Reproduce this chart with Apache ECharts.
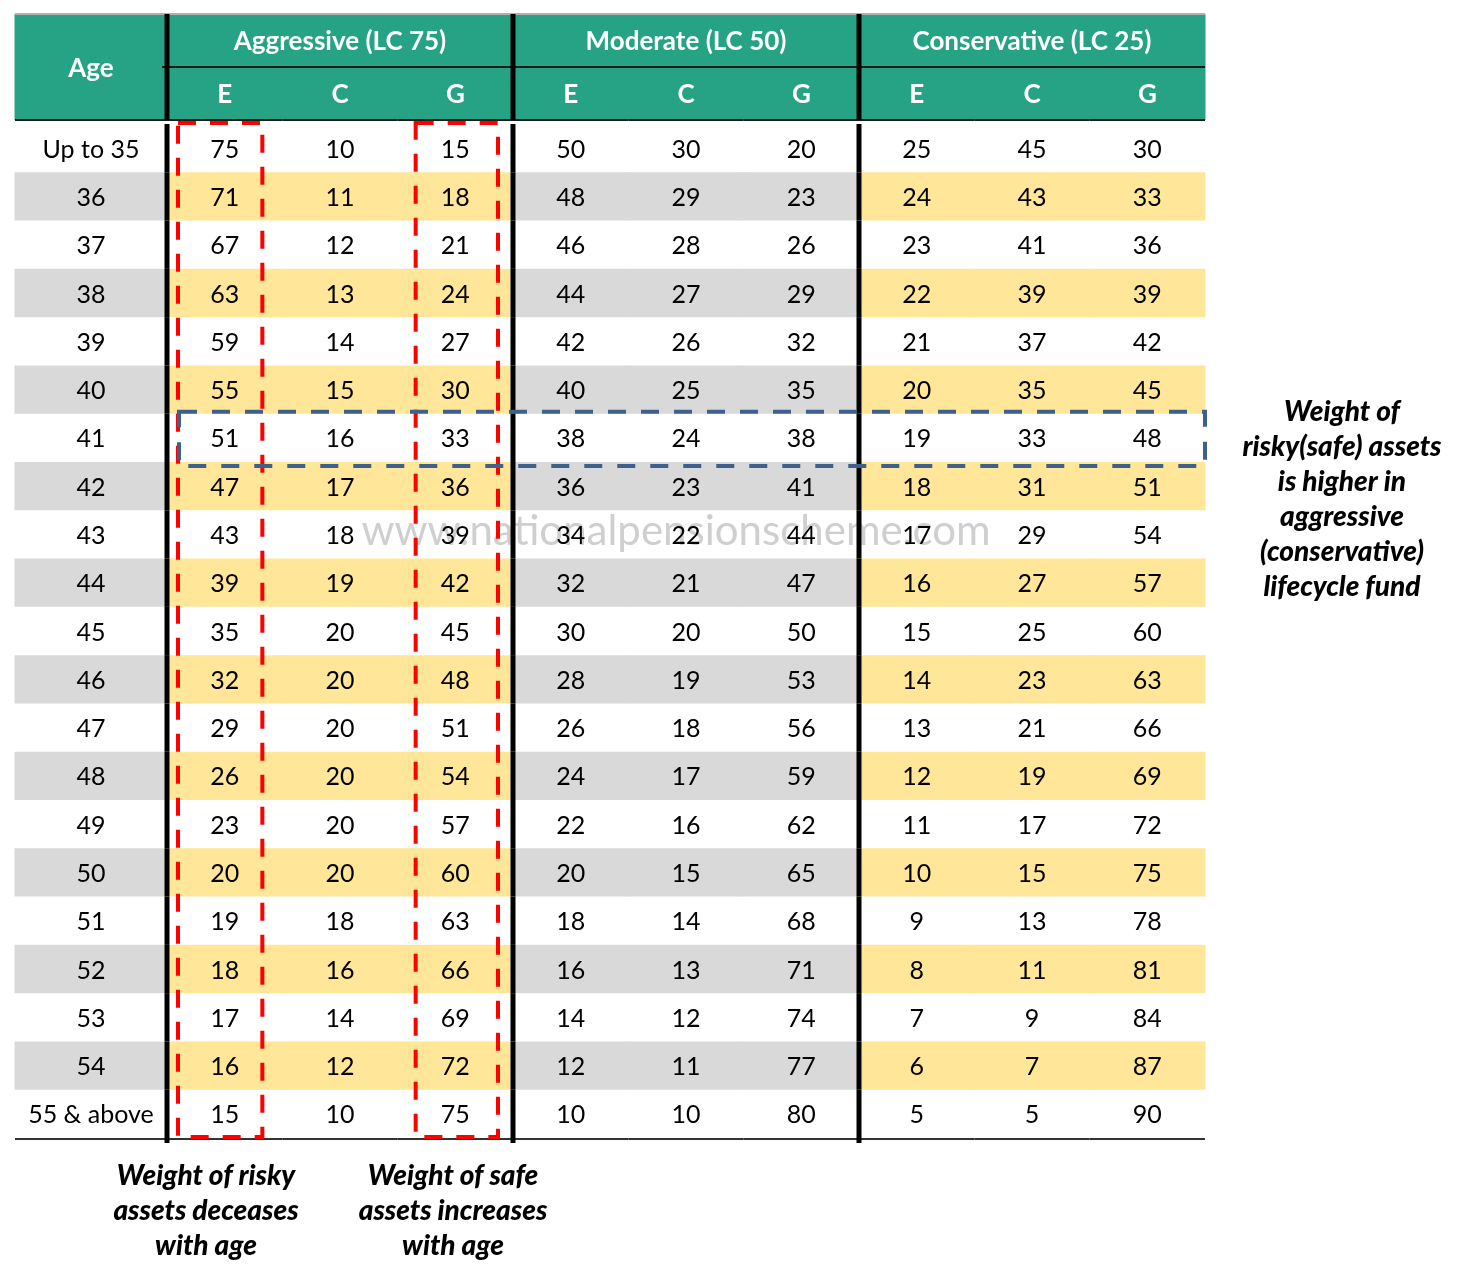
<!DOCTYPE html>
<html>
<head>
<meta charset="utf-8">
<script src="https://cdn.jsdelivr.net/npm/echarts@6/dist/echarts.min.js"></script>
<style>
html,body{margin:0;padding:0;background:#fff;}
#main{width:1474px;height:1268px;}
</style>
</head>
<body>
<div id="main"></div>
<script>
var ages = ['Up to 35','36','37','38','39','40','41','42','43','44','45','46','47','48','49','50','51','52','53','54','55 & above'];
var groups = ['Aggressive (LC 75)','Moderate (LC 50)','Conservative (LC 25)'];
var subCols = ['E','C','G'];
var aggressiveE = [75,71,67,63,59,55,51,47,43,39,35,32,29,26,23,20,19,18,17,16,15];
var aggressiveC = [10,11,12,13,14,15,16,17,18,19,20,20,20,20,20,20,18,16,14,12,10];
var aggressiveG = [15,18,21,24,27,30,33,36,39,42,45,48,51,54,57,60,63,66,69,72,75];
var moderateE = [50,48,46,44,42,40,38,36,34,32,30,28,26,24,22,20,18,16,14,12,10];
var moderateC = [30,29,28,27,26,25,24,23,22,21,20,19,18,17,16,15,14,13,12,11,10];
var moderateG = [20,23,26,29,32,35,38,41,44,47,50,53,56,59,62,65,68,71,74,77,80];
var conservativeE = [25,24,23,22,21,20,19,18,17,16,15,14,13,12,11,10,9,8,7,6,5];
var conservativeC = [45,43,41,39,37,35,33,31,29,27,25,23,21,19,17,15,13,11,9,7,5];
var conservativeG = [30,33,36,39,42,45,48,51,54,57,60,63,66,69,72,75,78,81,84,87,90];
// highlighted: E and G columns of aggressive fund, row of age 41
var boxedCols = [0, 2];
var boxedRow = 6;

var GREEN = '#26a384', YELLOW = '#ffe699', GRAY = '#d9d9d9', DARK = '#1a1a1a';
var FONT = 'Lato, "Open Sans", sans-serif';
var NOTE_FONT = 'italic 900 28px ' + FONT;

var fundValues = [aggressiveE, aggressiveC, aggressiveG, moderateE, moderateC, moderateG, conservativeE, conservativeC, conservativeG];
var fundCols = ['aggE','aggC','aggG','modE','modC','modG','conE','conC','conG'];
// left / right inset of the red boxes inside their column
var boxInset = {0:[11, 20], 2:[18, 15]};

var cellData = [];
for (var r = 0; r < ages.length; r++) {
	for (var c = 0; c < fundCols.length; c++) {
		cellData.push([c, r, fundValues[c][r]]);
	}
}
var ageData = [];
for (var i = 0; i < ages.length; i++) {
	ageData.push([0, i]);
}
var subData = [];
for (var c2 = 0; c2 < fundCols.length; c2++) {
	subData.push([c2, 1]);
}
var groupData = [];
for (var g = 0; g < groups.length; g++) {
	groupData.push([g * 3 + 1, 0, g]);
}

function vline(x, y1, y2) {
	return {type:'line', z2:20, shape:{x1:x, y1:y1, x2:x, y2:y2}, style:{stroke:'#000', lineWidth:5}};
}
function hline(x1, x2, y, color, w) {
	return {type:'line', z2:15, shape:{x1:x1, y1:y, x2:x2, y2:y}, style:{stroke:color, lineWidth:w}};
}
function cellText(text, x, y, bold, color) {
	return {type:'text', z2:10, style:{text:text, x:x, y:y, align:'center', verticalAlign:'middle',
		font:(bold ? 'bold 26px ' : '25px ') + FONT, fill:color}};
}
function cellRect(x, y, w, h, fill) {
	return {type:'rect', shape:{x:x - 0.5, y:y, width:w + 1, height:h}, style:{fill:fill}};
}

//年龄列
function renderAge(params, api) {
	var r = api.value(1);
	var p = api.coord([0, r]);
	var s = api.size([1, 1]);
	var x0 = p[0] - s[0] / 2, y0 = p[1] - s[1] / 2;
	var ch = [];
	if (r % 2 === 1) {
		ch.push(cellRect(x0, y0, s[0], s[1], GRAY));
	}
	ch.push(cellText(ages[r], p[0], p[1] + 1.5, false, '#000'));
	if (r === ages.length - 1) {
		ch.push(hline(x0, x0 + s[0], y0 + s[1] + 1, '#333', 2));
	}
	return {type:'group', children:ch};
}
//数据单元格
function renderCell(params, api) {
	var c = api.value(0), r = api.value(1);
	var p = api.coord([c, r]);
	var s = api.size([1, 1]);
	var x0 = p[0] - s[0] / 2, y0 = p[1] - s[1] / 2;
	var grp = Math.floor(c / 3);
	var ch = [];
	if (r % 2 === 1) {
		ch.push(cellRect(x0, y0, s[0], s[1], grp === 1 ? GRAY : YELLOW));
	}
	ch.push(cellText(String(api.value(2)), p[0], p[1] + 1.5, false, '#000'));
	var last = r === ages.length - 1;
	if (c % 3 === 0) {
		ch.push(vline(x0, y0, y0 + s[1] + (last ? 5 : 0)));
	}
	if (last) {
		ch.push(hline(x0, x0 + s[0], y0 + s[1] + 1, '#333', 2));
	}
	return {type:'group', children:ch};
}
function renderAgeHead(params, api) {
	var p = api.coord([0, 0]);
	var s = api.size([1, 1]);
	var x0 = p[0] - s[0] / 2, y0 = p[1] - s[1] / 2;
	return {type:'group', children:[
		cellRect(x0, y0, s[0], s[1], GREEN),
		cellText('Age', p[0], p[1] + 2, true, '#fff'),
		hline(x0, x0 + s[0], y0, '#b0b0b0', 2),
		hline(x0, x0 + s[0], y0 + s[1], DARK, 2)
	]};
}
function renderGroupHead(params, api) {
	var c = api.value(0), g = api.value(2);
	var p = api.coord([c, 0]);
	var s = api.size([1, 1]);
	var w = s[0] * 3;
	var x0 = p[0] - w / 2, y0 = p[1] - s[1] / 2;
	return {type:'group', children:[
		cellRect(x0, y0, w, s[1], GREEN),
		cellText(groups[g], p[0], p[1] + 1.5, true, '#fff'),
		hline(x0 - 5, x0 + w, y0, '#b0b0b0', 2),
		hline(x0 - 5, x0 + w, y0 + s[1], DARK, 2),
		vline(x0, y0, y0 + s[1])
	]};
}
function renderSubHead(params, api) {
	var c = api.value(0);
	var p = api.coord([c, 1]);
	var s = api.size([1, 1]);
	var x0 = p[0] - s[0] / 2, y0 = p[1] - s[1] / 2;
	var ch = [
		cellRect(x0, y0, s[0], s[1], GREEN),
		cellText(subCols[c % 3], p[0], p[1] + 1.5, true, '#fff'),
		hline(x0, x0 + s[0], y0 + s[1], DARK, 2)
	];
	if (c % 3 === 0) ch.push(vline(x0, y0, y0 + s[1]));
	return {type:'group', children:ch};
}
//红色虚线框
function renderColBox(params, api) {
	var c = api.value(0);
	var top = api.coord([c, 0]);
	var bot = api.coord([c, ages.length - 1]);
	var s = api.size([1, 1]);
	var ins = boxInset[c];
	var x0 = top[0] - s[0] / 2 + ins[0], x1 = top[0] + s[0] / 2 - ins[1];
	var y0 = top[1] - s[1] / 2 - 1, y1 = bot[1] + s[1] / 2 - 1;
	return {type:'rect', z2:30, shape:{x:x0, y:y0, width:x1 - x0, height:y1 - y0},
		style:{fill:'none', stroke:'#ff0000', lineWidth:4, lineDash:[18, 14]}};
}
//蓝色虚线框
function renderRowBox(params, api) {
	var r = api.value(0);
	var a = api.coord([0, r]);
	var b = api.coord([fundCols.length - 1, r]);
	var s = api.size([1, 1]);
	var x0 = a[0] - s[0] / 2 + 12, x1 = b[0] + s[0] / 2;
	var y0 = a[1] - s[1] / 2 - 2, y1 = a[1] + s[1] / 2 + 4;
	return {type:'rect', z2:31, shape:{x:x0, y:y0, width:x1 - x0, height:y1 - y0},
		style:{fill:'none', stroke:'#3f5f8c', lineWidth:4, lineDash:[18, 15]}};
}

var chart = echarts.init(document.getElementById('main'));
var option = {
	backgroundColor:'#fff',
	animation:false,
	grid:[
		{left:15, top:124, width:152, height:1014},
		{left:167, top:124, width:1038, height:1014},
		{left:15, top:14, width:152, height:106},
		{left:167, top:14, width:1038, height:106}
	],
	xAxis:[
		{type:'category', gridIndex:0, data:['Age'], show:false},
		{type:'category', gridIndex:1, data:fundCols, show:false},
		{type:'category', gridIndex:2, data:['Age'], show:false},
		{type:'category', gridIndex:3, data:fundCols, show:false}
	],
	yAxis:[
		{type:'category', gridIndex:0, data:ages, inverse:true, show:false},
		{type:'category', gridIndex:1, data:ages, inverse:true, show:false},
		{type:'category', gridIndex:2, data:['head'], inverse:true, show:false},
		{type:'category', gridIndex:3, data:['group','sub'], inverse:true, show:false}
	],
	graphic:[
		{type:'text', z:0, style:{text:'www.nationalpensionscheme.com', x:676, y:531,
			align:'center', verticalAlign:'middle', font:'42px ' + FONT, fill:'#cfcfcf'}},
		{type:'text', z:10, style:{text:'Weight of\nrisky(safe) assets\nis higher in\naggressive\n(conservative)\nlifecycle fund',
			x:1342, y:499, align:'center', verticalAlign:'middle', lineHeight:35,
			font:NOTE_FONT, fill:'#000'}},
		{type:'text', z:10, style:{text:'Weight of risky\nassets deceases\nwith age', x:206, y:1211,
			align:'center', verticalAlign:'middle', lineHeight:35, font:NOTE_FONT, fill:'#000'}},
		{type:'text', z:10, style:{text:'Weight of safe\nassets increases\nwith age', x:453, y:1211,
			align:'center', verticalAlign:'middle', lineHeight:35, font:NOTE_FONT, fill:'#000'}}
	],
	series:[
		{type:'custom', xAxisIndex:0, yAxisIndex:0, data:ageData, renderItem:renderAge, clip:false},
		{type:'custom', xAxisIndex:1, yAxisIndex:1, data:cellData, renderItem:renderCell, clip:false},
		{type:'custom', xAxisIndex:2, yAxisIndex:2, data:[[0, 0]], renderItem:renderAgeHead, clip:false},
		{type:'custom', xAxisIndex:3, yAxisIndex:3, data:groupData, renderItem:renderGroupHead, clip:false},
		{type:'custom', xAxisIndex:3, yAxisIndex:3, data:subData, renderItem:renderSubHead, clip:false},
		{type:'custom', xAxisIndex:1, yAxisIndex:1, data:boxedCols.map(function(c){ return [c]; }), renderItem:renderColBox, clip:false, z:5},
		{type:'custom', xAxisIndex:1, yAxisIndex:1, data:[[boxedRow]], renderItem:renderRowBox, clip:false, z:6}
	]
};
chart.setOption(option);
</script>
</body>
</html>
